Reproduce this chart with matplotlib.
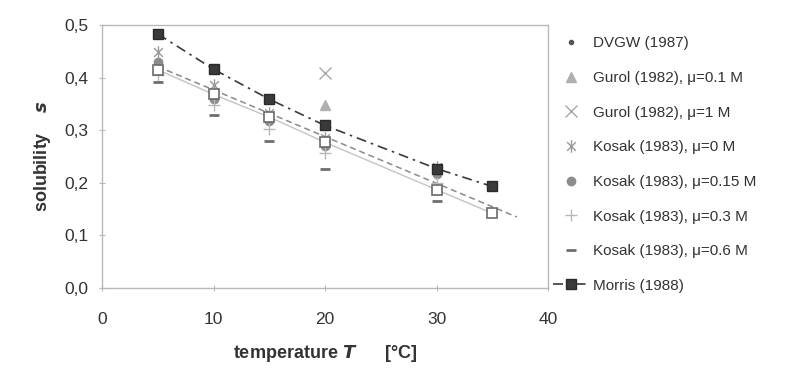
import matplotlib
matplotlib.use("Agg")
import matplotlib.pyplot as plt
from matplotlib.path import Path
from matplotlib.ticker import FuncFormatter, MultipleLocator

plt.rcParams['font.family'] = ['Liberation Sans', 'DejaVu Sans']

# ---- data ----
dvgw_T = [20, 30]
dvgw_s = [0.28, 0.22]

gurol01_T = [20]
gurol01_s = [0.348]

gurol1_T = [20]
gurol1_s = [0.408]

kosak0_T = [5, 10, 15, 20, 30]
kosak0_s = [0.449, 0.385, 0.332, 0.285, 0.230]

kosak015_T = [5, 10, 15, 20, 30]
kosak015_s = [0.430, 0.360, 0.317, 0.270, 0.216]

kosak03_T = [5, 10, 15, 20, 30]
kosak03_s = [0.405, 0.347, 0.303, 0.256, 0.200]

kosak06_T = [5, 10, 15, 20, 30]
kosak06_s = [0.392, 0.328, 0.279, 0.227, 0.166]

morris_T = [5, 10, 15, 20, 30, 35]
morris_s = [0.483, 0.416, 0.359, 0.309, 0.227, 0.193]

open_T = [5, 10, 15, 20, 30, 35]
open_s = [0.415, 0.368, 0.325, 0.277, 0.187, 0.142]

fit_T = [5, 37.2]
fit_s = [0.421, 0.135]

x_ticks = [0, 10, 20, 30, 40]

# asterisk-like marker: an X with a vertical bar
star = Path([(-0.7, -0.7), (0.7, 0.7), (-0.7, 0.7), (0.7, -0.7), (0, -1), (0, 1)],
            [Path.MOVETO, Path.LINETO, Path.MOVETO, Path.LINETO, Path.MOVETO, Path.LINETO])

fig = plt.figure(figsize=(7.91, 3.76), dpi=100)
ax = fig.add_axes([102/791, 88/376, 446/791, 263/376])

# lines
ax.plot(fit_T, fit_s, linestyle=(0, (4, 2.5)), color='#8a8a8a', lw=1.1, zorder=2)
ax.plot(open_T, open_s, linestyle='-', color='#c4c4c4', lw=1.0, zorder=2)

# markers
ax.plot(kosak015_T, kosak015_s, 'o', ms=6, color='#8c8c8c', mec='#8c8c8c', ls='none',
        label='Kosak (1983), μ=0.15 M', zorder=3)
ax.plot(kosak03_T, kosak03_s, '+', ms=8, color='#b8b8b8', mew=1.0, ls='none',
        label='Kosak (1983), μ=0.3 M', zorder=3)
ax.plot(kosak06_T, kosak06_s, '_', ms=7, color='#6e6e6e', mew=2.0, ls='none',
        label='Kosak (1983), μ=0.6 M', zorder=3)
ax.plot(kosak0_T, kosak0_s, marker=star, ms=9, mfc='none', mec='#9a9a9a', mew=1.0, ls='none',
        label='Kosak (1983), μ=0 M', zorder=3)
ax.plot(gurol01_T, gurol01_s, '^', ms=7, color='#b0b0b0', mec='#b0b0b0', ls='none',
        label='Gurol (1982), μ=0.1 M', zorder=3)
ax.plot(gurol1_T, gurol1_s, 'x', ms=9, color='#a8a8a8', mew=1.0, ls='none',
        label='Gurol (1982), μ=1 M', zorder=3)
ax.plot(dvgw_T, dvgw_s, 'o', ms=3, color='#555555', ls='none',
        label='DVGW (1987)', zorder=3)
ax.plot(open_T, open_s, 's', ms=7.5, mfc='white', mec='#6a6a6a', mew=1.2, ls='none', zorder=4)
ax.plot(morris_T, morris_s, marker='s', ms=7, color='#3a3a3a', mec='#2a2a2a',
        linestyle=(0, (6, 3, 1.5, 3)), lw=1.2, label='Morris (1988)', zorder=5)

ax.set_xlim(0, 40)
ax.set_ylim(0, 0.5)
ax.set_xticks(x_ticks)
ax.yaxis.set_major_locator(MultipleLocator(0.1))
ax.yaxis.set_major_formatter(FuncFormatter(lambda v, p: f"{v:.1f}".replace('.', ',')))

for sp in ax.spines.values():
    sp.set_color('#b8b8b8')
    sp.set_linewidth(1.0)
ax.tick_params(axis='both', direction='inout', length=4, width=0.8, color='#b8b8b8',
               labelsize=12.5, labelcolor='#333333')
ax.tick_params(axis='y', pad=8)
ax.tick_params(axis='x', pad=15)

ax.set_xlabel(r"temperature $\mathbfit{T}$      [°C]", fontsize=13, fontweight='bold',
              color='#333333', labelpad=12)
ax.set_ylabel(r"solubility    $\mathbfit{s}$", fontsize=13, fontweight='bold',
              color='#333333', labelpad=8)

handles, labels = ax.get_legend_handles_labels()
order = ['DVGW (1987)', 'Gurol (1982), μ=0.1 M', 'Gurol (1982), μ=1 M',
         'Kosak (1983), μ=0 M', 'Kosak (1983), μ=0.15 M', 'Kosak (1983), μ=0.3 M',
         'Kosak (1983), μ=0.6 M', 'Morris (1988)']
hmap = dict(zip(labels, handles))
leg = fig.legend([hmap[l] for l in order], order, loc='upper left',
                 bbox_to_anchor=(553/791, 1 - 36.4/376), frameon=False, fontsize=11,
                 labelspacing=1.35, handlelength=2.35, handletextpad=0.25, borderpad=0,
                 borderaxespad=0, numpoints=1)
for t in leg.get_texts():
    t.set_color('#333333')

fig.savefig('out.png', dpi=100)
